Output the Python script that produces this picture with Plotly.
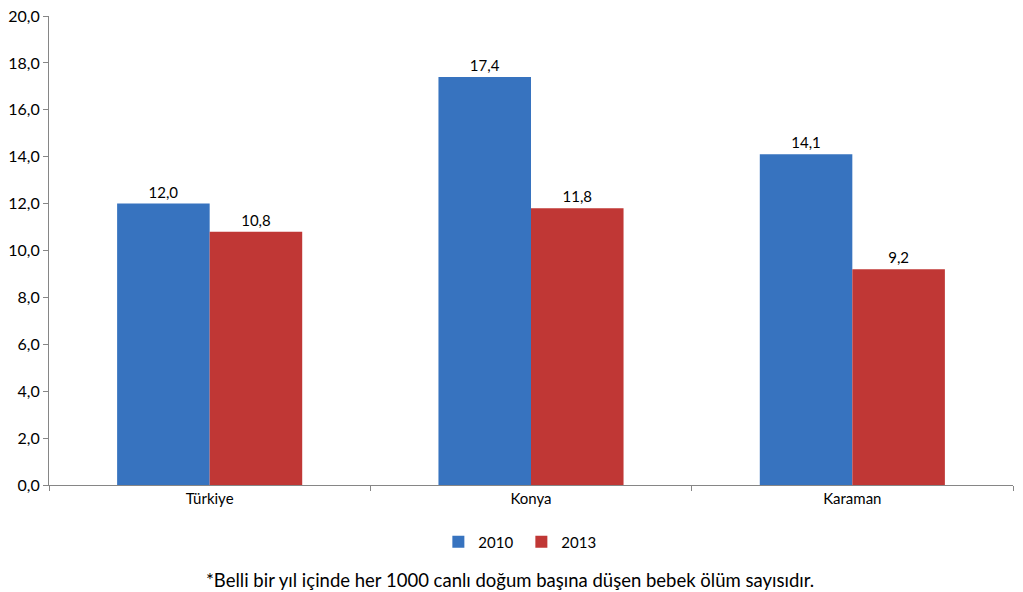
import plotly.graph_objects as go

categories = ["Türkiye", "Konya", "Karaman"]
years = ["2010", "2013"]
values_2010 = [12.0, 17.4, 14.1]
values_2013 = [10.8, 11.8, 9.2]
y_ticks = [0, 2, 4, 6, 8, 10, 12, 14, 16, 18, 20]
footnote = "*Belli bir yıl içinde her 1000 canlı doğum başına düşen bebek ölüm sayısıdır."

colors = ["#3773bf", "#c03735"]
FONT = "Lato, Calibri, 'Open Sans', sans-serif"

def fmt(v):
    return f"{v:.1f}".replace(".", ",")

fig = go.Figure()
for name, vals, col in zip(years, [values_2010, values_2013], colors):
    fig.add_trace(go.Bar(
        x=categories, y=vals, name=name,
        marker=dict(color=col, line=dict(width=0)),
        text=[fmt(v) for v in vals], textposition="outside",
        textfont=dict(size=15, color="#000000", family=FONT),
        cliponaxis=False,
    ))

fig.update_layout(
    width=1023, height=592,
    margin=dict(l=49, r=10, t=16, b=107, autoexpand=False),
    paper_bgcolor="white", plot_bgcolor="white",
    barmode="group", bargap=0.424, bargroupgap=0,
    font=dict(family=FONT, size=15, color="#000000"),
    legend=dict(orientation="h", x=0.49, xanchor="center", y=-0.1215, yanchor="middle",
                font=dict(size=15), itemwidth=30, entrywidth=38, traceorder="normal",
                bgcolor="rgba(0,0,0,0)"),
    annotations=[dict(text=footnote, xref="paper", yref="paper", x=0.478, y=-0.2026,
                      xanchor="center", yanchor="middle", showarrow=False,
                      font=dict(size=18.5, color="#000000", family=FONT))],
)
fig.update_xaxes(showline=True, linecolor="#868686", linewidth=1, ticks="outside",
                 tickson="boundaries", ticklen=5, tickcolor="#868686",
                 tickfont=dict(size=15), showgrid=False, automargin=False)
fig.update_yaxes(range=[0, 20], tickvals=y_ticks, ticktext=[fmt(t) for t in y_ticks],
                 showline=True, linecolor="#868686", linewidth=1, ticks="outside",
                 ticklen=5, tickcolor="#868686", tickfont=dict(size=16),
                 showgrid=False, zeroline=False, automargin=False)

fig.write_html("out.html", config={"displayModeBar": False},
               post_script="document.body.style.margin='0';document.body.style.padding='0';")
